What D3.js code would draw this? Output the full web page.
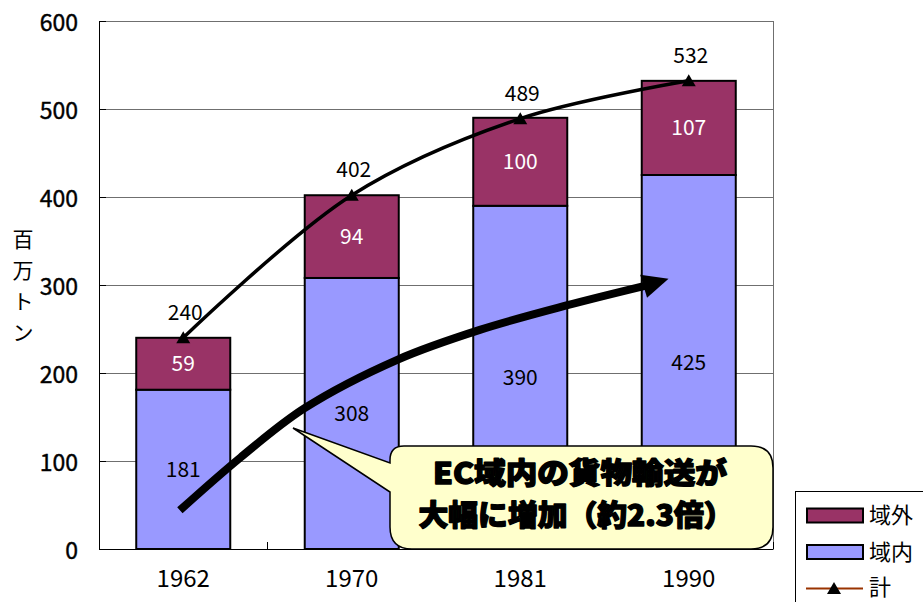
<!DOCTYPE html>
<html><head><meta charset="utf-8">
<script src="https://cdn.jsdelivr.net/npm/d3@7"></script>
<style>
html,body{margin:0;padding:0;background:#fff;}
svg{display:block;font-family:"Noto Sans CJK JP","Noto Sans",sans-serif;}
</style></head>
<body>
<svg id="chart" width="923" height="602"></svg>
<script>
// ---- data ----
const categories = ["1962", "1970", "1981", "1990"];
const inside = [181, 308, 390, 425];     // 域内
const outside = [59, 94, 100, 107];      // 域外
const totals = [240, 402, 489, 532];     // 計
const yTicks = [0, 100, 200, 300, 400, 500, 600];
const seriesNames = ["域外", "域内", "計"];
const yTitle = ["百", "万", "ト", "ン"];
const calloutLines = ["EC域内の貨物輸送が", "大幅に増加（約2.3倍）"];
// annotation arrow, in (category index, value) units
const trendArrow = [[-0.02, 44], [0.34, 104], [0.72, 160], [1.27, 215], [1.76, 249], [2.28, 277], [2.74, 299]];
const trendArrowTip = [2.88, 307];

// ---- layout ----
const mLeft = 99, mRight = 773, mTop = 21, mBottom = 549;
const colOut = "#993366", colIn = "#9999FF";

const svg = d3.select("#chart");
const x = d3.scaleBand().domain(categories).range([mLeft, mRight]).paddingInner(0.442).paddingOuter(0.221);
const y = d3.scaleLinear().domain([0, 600]).range([mBottom, mTop]);
const bw = x.bandwidth();
const cx = c => x(c) + bw / 2;
const xi = d3.scaleLinear().domain([0, 3]).range([cx(categories[0]), cx(categories[3])]);

// gridlines
svg.append("g").selectAll("line").data(yTicks.filter(d => d > 0)).join("line")
  .attr("x1", mLeft).attr("x2", mRight).attr("y1", d => y(d)).attr("y2", d => y(d))
  .attr("stroke", "#6f6f6f").attr("stroke-width", 1).attr("shape-rendering", "crispEdges");
// right border
svg.append("line").attr("x1", mRight).attr("x2", mRight).attr("y1", mTop).attr("y2", mBottom)
  .attr("stroke", "#6f6f6f").attr("shape-rendering", "crispEdges");

// y axis
const yAxis = d3.axisLeft(y).tickValues(yTicks).tickSizeInner(-7).tickSizeOuter(0).tickPadding(21);
const gy = svg.append("g").attr("transform", `translate(${mLeft},0)`).call(yAxis);
gy.select(".domain").attr("stroke", "#000");
gy.selectAll(".tick line").attr("stroke", "#000");
gy.selectAll(".tick text").attr("font-size", 23).attr("fill", "#000").attr("dy", "0.42em")
  .attr("stroke", "#000").attr("stroke-width", 0.4)
  .attr("font-family", '"Noto Sans CJK JP", sans-serif');

// x axis
const xAxis = d3.axisBottom(x).tickSize(0).tickPadding(0);
const gx = svg.append("g").attr("transform", `translate(0,${mBottom})`).call(xAxis);
gx.select(".domain").attr("stroke", "#000");
gx.selectAll(".tick text").attr("font-size", 24).attr("fill", "#000").attr("y", 38).attr("dy", "0")
  .attr("font-family", '"Noto Sans CJK JP", sans-serif');
// category separator ticks (inside)
svg.append("g").selectAll("line").data(d3.range(0, categories.length + 1)).join("line")
  .attr("x1", i => mLeft + i * x.step()).attr("x2", i => mLeft + i * x.step())
  .attr("y1", mBottom).attr("y2", mBottom - 7)
  .attr("stroke", "#000").attr("shape-rendering", "crispEdges");

// bars
const bars = svg.append("g");
bars.selectAll("rect.in").data(categories).join("rect").attr("class", "in")
  .attr("x", d => x(d)).attr("width", bw)
  .attr("y", (d, i) => y(inside[i])).attr("height", (d, i) => y(0) - y(inside[i]))
  .attr("fill", colIn).attr("stroke", "#000").attr("stroke-width", 2);
bars.selectAll("rect.out").data(categories).join("rect").attr("class", "out")
  .attr("x", d => x(d)).attr("width", bw)
  .attr("y", (d, i) => y(inside[i] + outside[i])).attr("height", (d, i) => y(inside[i]) - y(inside[i] + outside[i]))
  .attr("fill", colOut).attr("stroke", "#000").attr("stroke-width", 2);

// segment labels
svg.append("g").selectAll("text").data(categories).join("text")
  .attr("x", d => cx(d)).attr("y", (d, i) => y(inside[i] / 2))
  .attr("dy", "0.36em").attr("text-anchor", "middle").attr("font-size", 21).attr("fill", "#000")
  .text((d, i) => inside[i]);
svg.append("g").selectAll("text").data(categories).join("text")
  .attr("x", d => cx(d)).attr("y", (d, i) => y(inside[i] + outside[i] / 2))
  .attr("dy", "0.36em").attr("text-anchor", "middle").attr("font-size", 21).attr("fill", "#fff")
  .text((d, i) => outside[i]);

// total line
const totalLine = d3.line().x((d, i) => cx(categories[i])).y(d => y(d)).curve(d3.curveCatmullRom.alpha(0.5));
svg.append("path").datum(totals).attr("d", totalLine)
  .attr("fill", "none").attr("stroke", "#000").attr("stroke-width", 3.5);
const tri = "M0,-6.5L7,5.5L-7,5.5Z";
svg.append("g").selectAll("path").data(totals).join("path")
  .attr("transform", (d, i) => `translate(${cx(categories[i])},${y(d)})`)
  .attr("d", tri).attr("fill", "#000");
svg.append("g").selectAll("text").data(totals).join("text")
  .attr("x", (d, i) => cx(categories[i]) + 2).attr("y", d => y(d) - 18)
  .attr("text-anchor", "middle").attr("font-size", 21).attr("fill", "#000")
  .text(d => d);

// big trend arrow
const ap = trendArrow.map(p => [xi(p[0]), y(p[1])]);
svg.append("path").attr("d", d3.line().curve(d3.curveCatmullRom.alpha(0.5))(ap))
  .attr("fill", "none").attr("stroke", "#000").attr("stroke-width", 8);
{
  const T = [xi(trendArrowTip[0]), y(trendArrowTip[1])];
  const P = ap[ap.length - 1];
  let dx = T[0] - P[0], dy = T[1] - P[1];
  const len = Math.hypot(dx, dy); dx /= len; dy /= len;
  const L = 26, hw = 12;
  const B = [T[0] - dx * L, T[1] - dy * L];
  svg.append("path").attr("d", `M${T[0]},${T[1]}L${B[0] - dy * hw},${B[1] + dx * hw}L${B[0] + dy * hw},${B[1] - dx * hw}Z`)
    .attr("fill", "#000");
}

// callout
{
  const x0 = 390, x1 = 773, y0 = 446, y1 = 549, r = 22, r2 = 14;
  const tip = [293, 428];
  const p = `M${x0 + r2},${y0} L${x1 - r},${y0} Q${x1},${y0} ${x1},${y0 + r} L${x1},${y1 - r} Q${x1},${y1} ${x1 - r},${y1} ` +
    `L${x0 + r},${y1} Q${x0},${y1} ${x0},${y1 - r} L${x0},492 L${tip[0]},${tip[1]} L${x0},463 L${x0},${y0 + r2} Q${x0},${y0} ${x0 + r2},${y0} Z`;
  svg.append("path").attr("d", p).attr("fill", "#FFFFCC").attr("stroke", "#000").attr("stroke-width", 1.5);
  const lines = [{ t: calloutLines[0], x: 580, y: 474, w: 294 }, { t: calloutLines[1], x: 576, y: 516, w: 315 }];
  svg.append("g").selectAll("text").data(lines).join("text")
    .attr("x", d => d.x - d.w / 2).attr("y", d => d.y).attr("dy", "0.36em")
    .attr("textLength", d => d.w).attr("lengthAdjust", "spacingAndGlyphs")
    .attr("font-size", 29).attr("font-weight", 900).attr("fill", "#000")
    .attr("stroke", "#000").attr("stroke-width", 1.4).attr("stroke-linejoin", "round").text(d => d.t);
}

// y axis title (vertical)
svg.append("text").attr("font-size", 21).attr("fill", "#000").attr("text-anchor", "middle")
  .selectAll("tspan").data(yTitle).join("tspan")
  .attr("x", 23).attr("y", (d, i) => 239 + i * 31).attr("dy", "0.36em").text(d => d);

// legend
{
  const g = svg.append("g");
  g.append("rect").attr("x", 795.5).attr("y", 491.5).attr("width", 140).attr("height", 130)
    .attr("fill", "#fff").attr("stroke", "#000");
  const rows = [515.5, 552, 587.5];
  g.append("rect").attr("x", 807).attr("y", rows[0] - 7).attr("width", 56).attr("height", 14)
    .attr("fill", colOut).attr("stroke", "#000").attr("stroke-width", 2);
  g.append("rect").attr("x", 807).attr("y", rows[1] - 7).attr("width", 56).attr("height", 14)
    .attr("fill", colIn).attr("stroke", "#000").attr("stroke-width", 2);
  g.append("line").attr("x1", 806).attr("x2", 863).attr("y1", rows[2] + 1).attr("y2", rows[2] + 1)
    .attr("stroke", "#993300").attr("stroke-width", 2);
  g.append("path").attr("transform", `translate(834,${rows[2] + 1})`).attr("d", tri).attr("fill", "#000");
  g.selectAll("text").data(seriesNames).join("text")
    .attr("x", 869).attr("y", (d, i) => rows[i]).attr("dy", "0.36em")
    .attr("font-size", 22).attr("fill", "#000").text(d => d);
}
</script>
</body></html>
